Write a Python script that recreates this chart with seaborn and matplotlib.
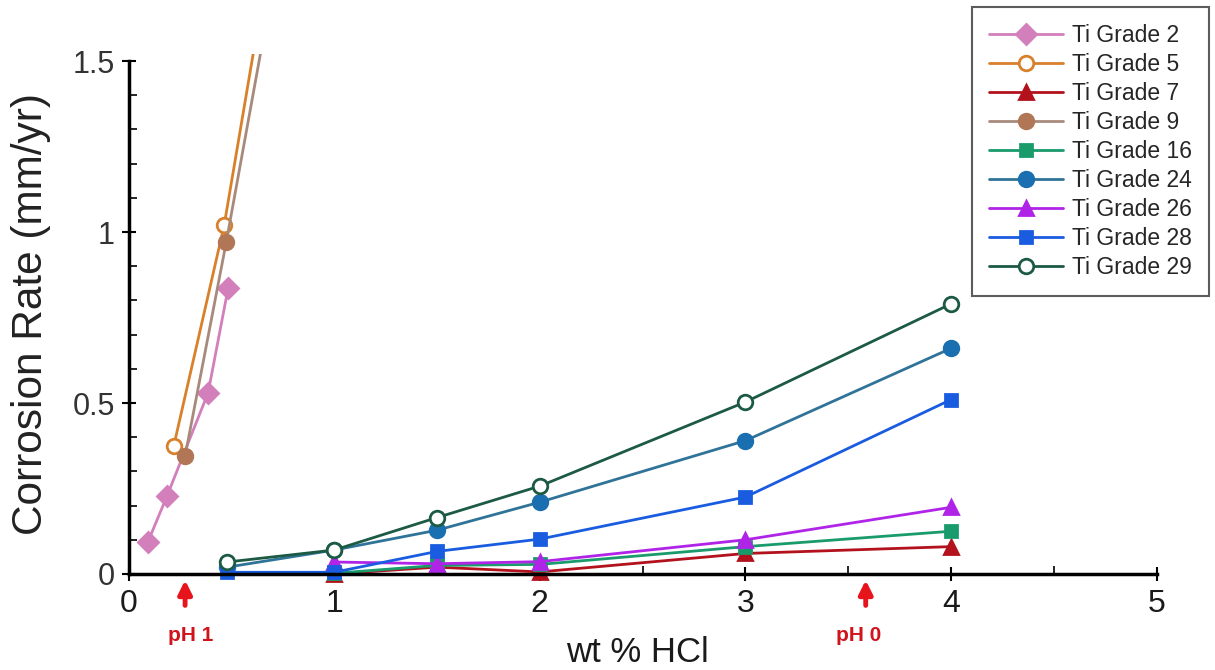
import matplotlib
matplotlib.use("Agg")
import matplotlib.pyplot as plt
import seaborn as sns
import numpy as np
from matplotlib.ticker import MultipleLocator, FixedLocator

sns.set_theme(style="white")
plt.rcParams['font.family'] = ['Liberation Sans', 'DejaVu Sans']

# ---- data ----
g2_x = [0.095, 0.187, 0.387, 0.484]
g2_y = [0.095, 0.228, 0.53, 0.835]
g5_x = [0.22, 0.465, 1.0]
g5_y = [0.375, 1.02, 2.92]
g9_x = [0.275, 0.475, 1.0]
g9_y = [0.345, 0.97, 2.71]
g7_x = [1.0, 1.5, 2.0, 3.0, 4.0]
g7_y = [0.0, 0.02, 0.006, 0.06, 0.08]
g16_x = [1.0, 1.5, 2.0, 3.0, 4.0]
g16_y = [0.002, 0.025, 0.028, 0.08, 0.125]
g24_x = [0.48, 1.0, 1.5, 2.0, 3.0, 4.0]
g24_y = [0.02, 0.07, 0.128, 0.21, 0.39, 0.66]
g26_x = [1.0, 1.5, 2.0, 3.0, 4.0]
g26_y = [0.035, 0.03, 0.036, 0.10, 0.195]
g28_x = [0.48, 1.0, 1.5, 2.0, 3.0, 4.0]
g28_y = [0.005, 0.005, 0.066, 0.102, 0.225, 0.51]
g29_x = [0.48, 1.0, 1.5, 2.0, 3.0, 4.0]
g29_y = [0.035, 0.07, 0.165, 0.257, 0.503, 0.79]

labels = ["Ti Grade 2", "Ti Grade 5", "Ti Grade 7", "Ti Grade 9", "Ti Grade 16",
          "Ti Grade 24", "Ti Grade 26", "Ti Grade 28", "Ti Grade 29"]
xs = [g2_x, g5_x, g7_x, g9_x, g16_x, g24_x, g26_x, g28_x, g29_x]
ys = [g2_y, g5_y, g7_y, g9_y, g16_y, g24_y, g26_y, g28_y, g29_y]

x_ticks = [0, 1, 2, 3, 4, 5]
y_ticks = [0, 0.5, 1, 1.5]
y_tick_labels = ["0", "0.5", "1", "1.5"]
ph_arrow_x = [0.275, 3.585]
ph_text_x = [0.30, 3.55]
ph_labels = ["pH 1", "pH 0"]

# styles: line color, marker, marker face, marker edge, size
styles = [
    ("#d27fbb", "D", "#d27fbb", "#d27fbb", 10),
    ("#d9802a", "o", "white", "#d9802a", 10.5),
    ("#b3121c", "^", "#b3121c", "#b3121c", 10.5),
    ("#a88a7c", "o", "#b07656", "#b07656", 10.5),
    ("#1a9b6c", "s", "#1a9b6c", "#1a9b6c", 9),
    ("#2f7398", "o", "#1a6fb0", "#1a6fb0", 10.5),
    ("#b024e8", "^", "#b024e8", "#b024e8", 10.5),
    ("#1a5ce0", "s", "#1a5ce0", "#1a5ce0", 9),
    ("#1c5a44", "o", "white", "#1c5a44", 10.5),
]

fig = plt.figure(figsize=(12.15, 6.7), dpi=100)
ax = fig.add_axes([0.1058, 0.128, 0.8462, 0.791])

for x, y, lab, (lc, mk, mfc, mec, ms) in zip(xs, ys, labels, styles):
    sns.lineplot(x=x, y=y, ax=ax, color=lc, marker=mk, markerfacecolor=mfc,
                 markeredgecolor=mec, markeredgewidth=2.0, markersize=ms,
                 linewidth=2.0, label=lab, sort=False, estimator=None)

ax.set_xlim(0, 5)
ax.set_ylim(-0.03, 1.52)
ax.spines['bottom'].set_position(('data', 0))
ax.spines['left'].set_bounds(0, 1.5)
ax.spines['top'].set_visible(False)
ax.spines['right'].set_visible(False)
for s in ['left', 'bottom']:
    ax.spines[s].set_linewidth(2.5)
    ax.spines[s].set_color('black')

ax.xaxis.set_major_locator(FixedLocator(x_ticks))
ax.set_xticklabels([str(t) for t in x_ticks])
ax.xaxis.set_minor_locator(MultipleLocator(0.5))
ax.yaxis.set_major_locator(FixedLocator(y_ticks))
ax.set_yticklabels(y_tick_labels)
ax.yaxis.set_minor_locator(MultipleLocator(0.1))
ax.tick_params(which='major', direction='inout', length=10, width=1.5, color='black')
ax.tick_params(which='minor', direction='in', length=6, width=1.2, color='black')
ax.tick_params(axis='x', which='major', labelsize=23, pad=6, labelcolor='#1a1a1a')
ax.tick_params(axis='y', which='major', labelsize=22, pad=5, labelcolor='#333333')
ax.tick_params(which='both', bottom=True, left=True)
ax.grid(False)

ax.set_ylabel("Corrosion Rate (mm/yr)", fontsize=30.5, color='#222222')
ax.yaxis.set_label_coords(-0.075, 0.51)
ax.set_xlabel("wt % HCl", fontsize=25, color='#1a1a1a')
ax.xaxis.set_label_coords(0.495, -0.128)
ax.xaxis.label.set_verticalalignment('center')

for ax_x, tx, pl in zip(ph_arrow_x, ph_text_x, ph_labels):
    ax.annotate("", xy=(ax_x, -0.01), xytext=(ax_x, -0.10), xycoords='data',
                arrowprops=dict(arrowstyle="-|>", color="#e8141c", lw=3.5,
                                mutation_scale=20), annotation_clip=False)
    ax.text(tx, -0.18, pl, color="#d0141c", fontsize=15, fontweight='bold',
            ha='center', va='center', clip_on=False)

leg = ax.legend(loc='upper left', bbox_to_anchor=(972 / 1215, 1 - 7 / 670),
                bbox_transform=fig.transFigure, fontsize=16.5, frameon=True,
                fancybox=False, edgecolor='#333333', handlelength=3.2,
                labelspacing=0.26, borderpad=0.75, handletextpad=0.42,
                borderaxespad=0)
leg.get_frame().set_linewidth(1.5)

fig.savefig("out.png", dpi=100)
